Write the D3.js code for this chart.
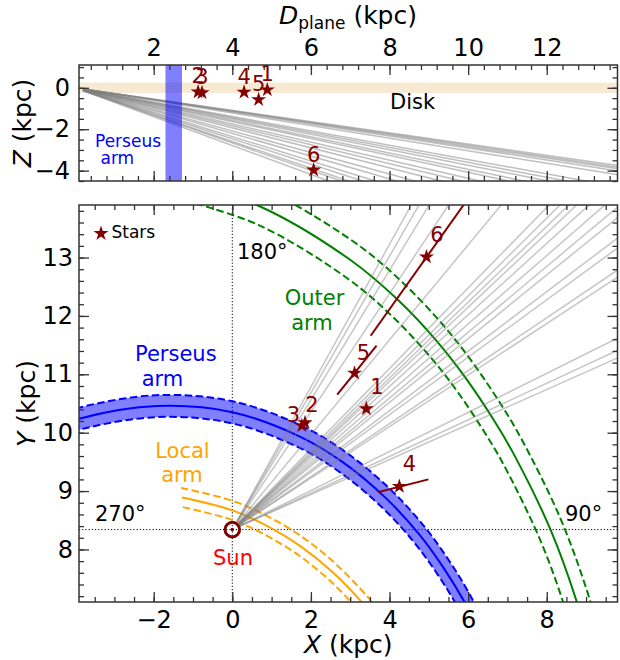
<!DOCTYPE html>
<html>
<head>
<meta charset="utf-8">
<script src="https://cdn.jsdelivr.net/npm/d3@7"></script>
<style>
  body { margin: 0; background: #fff; }
  text { font-family: "DejaVu Sans", sans-serif; }
</style>
</head>
<body>
<svg id="chart" width="620" height="660"></svg>
<script>
// ---- data ----
const starIds = [1, 2, 3, 4, 5, 6];
// face-on view (kpc)
const starX = [3.41, 1.85, 1.77, 4.25, 3.11, 4.94];
const starY = [10.41, 10.17, 10.12, 9.08, 11.02, 13.01];
// edge-on view (kpc)
const starD = [4.89, 3.13, 3.23, 4.30, 4.67, 6.07];
const starZ = [-0.10, -0.20, -0.24, -0.21, -0.57, -3.97];

// distance ranges drawn as segments in the face-on view
const errIds = [4, 5, 6];
const errX0 = [3.70, 2.67, 3.52];
const errY0 = [8.98, 10.65, 11.66];
const errX1 = [4.99, 3.67, 6.20];
const errY1 = [9.20, 11.49, 14.20];

// sightlines: galactic longitude / latitude (deg)
const losL = [140.7, 139.5, 138.0, 135.3, 129.1, 124.6, 123.7, 123.0, 122.4, 121.5,
              120.4, 119.4, 118.6, 117.0, 116.2, 114.4, 113.8, 108.5, 107.4, 106.7];
const losB = [-34.9, -33.6, -32.9, -31.6, -30.5, -28.8, -27.5, -25.8, -24.6, -23.6,
              -22.2, -21.5, -20.5, -19.8, -19.1, -16.9, -16.2, -15.8, -15.5, -15.2];

// spiral arms: galactocentric azimuth (deg, from the Sun direction) and radius (kpc)
const perseusAz = [-25, -20.7, -10.4, 0, 9.9, 16.6, 23.8, 29.9, 34.9, 39.6, 45];
const perseusR  = [11.08, 10.95, 10.63, 10.35, 10.08, 9.90, 9.70, 9.53, 9.38, 9.24, 9.08];
const perseusWidth = 0.38;
const outerAz = [-6, 2.8, 13.1, 18.9, 24.3, 28.4, 33.3, 36.5, 44.2, 51.0, 56];
const outerR  = [14.43, 13.90, 13.30, 12.98, 12.68, 12.45, 12.18, 12.01, 11.62, 11.28, 11.04];
const outerWidth = 0.65;
const localAz = [-8.2, 0, 6.0, 12.2, 18.5, 25.1, 29];
const localR  = [8.98, 8.67, 8.45, 8.24, 8.03, 7.82, 7.70];
const localWidth = 0.33;

const sun = [0, 8.34];
const diskZ = [-0.25, 0.25];
const perseusDplane = [2.30, 2.72];

const dTicks = [2, 4, 6, 8, 10, 12];
const zTicks = [0, -2, -4];
const xTicks = [-2, 0, 2, 4, 6, 8];
const yTicks = [8, 9, 10, 11, 12, 13];

// ---- layout ----
const svg = d3.select('#chart');
const left = 79, right = 617.5;
const top1 = 65, bot1 = 181, top2 = 205, bot2 = 602;
const darkred = '#850000';
const rad = Math.PI / 180;
const intFmt = d3.format('d');

const xD = d3.scaleLinear([0.1, 13.8], [left, right]);
const yZ = d3.scaleLinear([-4.5, 1.1], [bot1, top1]);
const xX = d3.scaleLinear([-3.9, 9.8], [left, right]);
const yY = d3.scaleLinear([7.1, 13.9], [bot2, top2]);

const defs = svg.append('defs');
defs.append('clipPath').attr('id', 'clipTop')
  .append('rect').attr('x', left).attr('y', top1).attr('width', right - left).attr('height', bot1 - top1);
defs.append('clipPath').attr('id', 'clipBot')
  .append('rect').attr('x', left).attr('y', top2).attr('width', right - left).attr('height', bot2 - top2);

const star = d3.symbol(d3.symbolStar, 70);

// ================= top panel: edge-on =================
const gTop = svg.append('g').attr('clip-path', 'url(#clipTop)');

gTop.append('rect')
  .attr('x', left).attr('width', right - left)
  .attr('y', yZ(diskZ[1])).attr('height', yZ(diskZ[0]) - yZ(diskZ[1]))
  .attr('fill', '#f7e9d2');

gTop.selectAll('.losTop')
  .data(losB)
  .join('line')
  .attr('class', 'losTop')
  .attr('x1', xD(0.2)).attr('y1', b => yZ(0.2 * Math.tan(b * rad)))
  .attr('x2', xD(20)).attr('y2', b => yZ(20 * Math.tan(b * rad)))
  .attr('stroke', 'grey')
  .attr('stroke-opacity', 0.5)
  .attr('stroke-width', 1.5);

gTop.append('rect')
  .attr('x', xD(perseusDplane[0])).attr('width', xD(perseusDplane[1]) - xD(perseusDplane[0]))
  .attr('y', top1).attr('height', bot1 - top1)
  .attr('fill', 'blue').attr('fill-opacity', 0.5);

gTop.selectAll('.starTop')
  .data(starIds)
  .join('path')
  .attr('class', 'starTop')
  .attr('d', star)
  .attr('transform', (d, i) => `translate(${xD(starD[i])},${yZ(starZ[i])})`)
  .attr('fill', darkred);

svg.selectAll('.labTop')
  .data(starIds)
  .join('text')
  .attr('class', 'labTop')
  .attr('x', (d, i) => xD(starD[i]))
  .attr('y', (d, i) => yZ(starZ[i]) - 16)
  .attr('dy', '0.36em')
  .attr('text-anchor', 'middle')
  .attr('font-size', 21)
  .attr('fill', darkred)
  .text(d => d);

svg.append('text').attr('x', 390).attr('y', 109).attr('font-size', 21).text('Disk');
svg.append('text').attr('x', 95).attr('y', 146.5).attr('font-size', 17).attr('fill', 'blue').text('Perseus');
svg.append('text').attr('x', 100.5).attr('y', 164).attr('font-size', 17).attr('fill', 'blue').text('arm');

// ================= bottom panel: face-on =================
const gBot = svg.append('g').attr('clip-path', 'url(#clipBot)');

const armLine = d3.line()
  .x(d => xX(d[0]))
  .y(d => yY(d[1]))
  .curve(d3.curveCatmullRom);

function armPoints(az, R, dr) {
  return az.map((b, i) => [(R[i] + dr) * Math.sin(b * rad), (R[i] + dr) * Math.cos(b * rad)]);
}

function drawArm(az, R, width, color, band) {
  const outer = armPoints(az, R, width / 2);
  const inner = armPoints(az, R, -width / 2);
  if (band) {
    const back = armLine(inner.slice().reverse());
    gBot.append('path')
      .attr('d', armLine(outer) + 'L' + back.slice(1) + 'Z')
      .attr('fill', 'blue').attr('fill-opacity', 0.5);
  }
  gBot.append('path').attr('d', armLine(armPoints(az, R, 0)))
    .attr('fill', 'none').attr('stroke', color).attr('stroke-width', 2);
  [outer, inner].forEach(pts => {
    gBot.append('path').attr('d', armLine(pts))
      .attr('fill', 'none').attr('stroke', color).attr('stroke-width', 2)
      .attr('stroke-dasharray', '7.5,3.5');
  });
}

// dotted cross through the Sun
gBot.append('line')
  .attr('x1', xX(sun[0])).attr('x2', xX(sun[0]))
  .attr('y1', top2).attr('y2', bot2)
  .attr('stroke', '#000').attr('stroke-width', 1).attr('stroke-dasharray', '1.2,2');
gBot.append('line')
  .attr('x1', left).attr('x2', right)
  .attr('y1', yY(sun[1])).attr('y2', yY(sun[1]))
  .attr('stroke', '#000').attr('stroke-width', 1).attr('stroke-dasharray', '1.2,2');

drawArm(perseusAz, perseusR, perseusWidth, 'blue', true);
drawArm(outerAz, outerR, outerWidth, 'green', false);
drawArm(localAz, localR, localWidth, 'orange', false);

gBot.selectAll('.losBot')
  .data(losL)
  .join('line')
  .attr('class', 'losBot')
  .attr('x1', l => xX(sun[0] + 0.2 * Math.sin(l * rad)))
  .attr('y1', l => yY(sun[1] - 0.2 * Math.cos(l * rad)))
  .attr('x2', l => xX(sun[0] + 20 * Math.sin(l * rad)))
  .attr('y2', l => yY(sun[1] - 20 * Math.cos(l * rad)))
  .attr('stroke', 'grey')
  .attr('stroke-opacity', 0.45)
  .attr('stroke-width', 1.5);

gBot.selectAll('.err')
  .data(errIds)
  .join('line')
  .attr('class', 'err')
  .attr('x1', (d, i) => xX(errX0[i])).attr('y1', (d, i) => yY(errY0[i]))
  .attr('x2', (d, i) => xX(errX1[i])).attr('y2', (d, i) => yY(errY1[i]))
  .attr('stroke', darkred).attr('stroke-width', 2);

gBot.selectAll('.starBot')
  .data(starIds)
  .join('path')
  .attr('class', 'starBot')
  .attr('d', star)
  .attr('transform', (d, i) => `translate(${xX(starX[i])},${yY(starY[i])})`)
  .attr('fill', darkred);

// label offsets (px) so the numbers sit clear of the markers
const labOffset = { 1: [10.5, -22], 2: [7, -18], 3: [-8.5, -11.5], 4: [10, -23], 5: [9, -21], 6: [10.5, -22.5] };
svg.selectAll('.labBot')
  .data(starIds)
  .join('text')
  .attr('class', 'labBot')
  .attr('x', (d, i) => xX(starX[i]) + labOffset[d][0])
  .attr('y', (d, i) => yY(starY[i]) + labOffset[d][1])
  .attr('dy', '0.36em')
  .attr('text-anchor', 'middle')
  .attr('font-size', 21)
  .attr('fill', darkred)
  .text(d => d);

// the Sun
svg.append('circle')
  .attr('cx', xX(sun[0])).attr('cy', yY(sun[1])).attr('r', 7.3)
  .attr('fill', 'none').attr('stroke', '#7a0000').attr('stroke-width', 3);
svg.append('circle')
  .attr('cx', xX(sun[0])).attr('cy', yY(sun[1])).attr('r', 1.8)
  .attr('fill', '#7a0000');

// legend
svg.append('path').attr('d', star).attr('transform', 'translate(101,233.5)').attr('fill', darkred);
svg.append('text').attr('x', 111.5).attr('y', 237.5).attr('font-size', 17).text('Stars');

// annotations
const note = (x, y, txt, color, anchor) => svg.append('text')
  .attr('x', x).attr('y', y).attr('font-size', 21)
  .attr('fill', color).attr('text-anchor', anchor || 'start').text(txt);
note(237, 258.5, '180°', '#000');
note(95, 520.5, '270°', '#000');
note(565, 520.5, '90°', '#000');
note(314.5, 305, 'Outer', 'green', 'middle');
note(312, 330, 'arm', 'green', 'middle');
note(135, 361, 'Perseus', 'blue');
note(141.7, 386, 'arm', 'blue');
note(182.5, 458, 'Local', 'orange', 'middle');
note(182, 482, 'arm', 'orange', 'middle');
note(233, 565, 'Sun', 'red', 'middle');

// ================= axes =================
function frame(y0, y1) {
  svg.append('rect')
    .attr('x', left).attr('y', y0).attr('width', right - left).attr('height', y1 - y0)
    .attr('fill', 'none').attr('stroke', '#333').attr('stroke-width', 1.5);
}

function ticks(axis, transform, labelled) {
  const g = svg.append('g').attr('transform', transform).call(axis.tickFormat(intFmt));
  g.select('.domain').remove();
  g.selectAll('line').attr('stroke', '#333').attr('stroke-width', 1.3);
  g.selectAll('text').attr('font-size', 24).attr('fill', '#000')
    .style('font-family', '"DejaVu Sans", sans-serif');
  if (!labelled) g.selectAll('text').remove();
  return g;
}

// top panel
ticks(d3.axisTop(xD).tickValues(dTicks).tickSize(-10).tickPadding(9), `translate(0,${top1})`, true);
ticks(d3.axisTop(xD).tickValues(d3.range(0.4, 13.8, 0.4)).tickSize(-5), `translate(0,${top1})`, false);
ticks(d3.axisBottom(xD).tickValues(dTicks).tickSize(-10), `translate(0,${bot1})`, false);
ticks(d3.axisBottom(xD).tickValues(d3.range(0.4, 13.8, 0.4)).tickSize(-5), `translate(0,${bot1})`, false);
ticks(d3.axisLeft(yZ).tickValues(zTicks).tickSize(-10).tickPadding(9), `translate(${left},0)`, true);
ticks(d3.axisLeft(yZ).tickValues(d3.range(-4.5, 1.01, 0.5)).tickSize(-5), `translate(${left},0)`, false);
ticks(d3.axisRight(yZ).tickValues(zTicks).tickSize(-10), `translate(${right},0)`, false);
ticks(d3.axisRight(yZ).tickValues(d3.range(-4.5, 1.01, 0.5)).tickSize(-5), `translate(${right},0)`, false);
frame(top1, bot1);

// bottom panel
ticks(d3.axisBottom(xX).tickValues(xTicks).tickSize(-10).tickPadding(9), `translate(0,${bot2})`, true);
ticks(d3.axisBottom(xX).tickValues(d3.range(-3.5, 9.8, 0.5)).tickSize(-5), `translate(0,${bot2})`, false);
ticks(d3.axisTop(xX).tickValues(xTicks).tickSize(-10), `translate(0,${top2})`, false);
ticks(d3.axisTop(xX).tickValues(d3.range(-3.5, 9.8, 0.5)).tickSize(-5), `translate(0,${top2})`, false);
ticks(d3.axisLeft(yY).tickValues(yTicks).tickSize(-10).tickPadding(6), `translate(${left},0)`, true);
ticks(d3.axisLeft(yY).tickValues(d3.range(7.2, 13.9, 0.2)).tickSize(-5), `translate(${left},0)`, false);
ticks(d3.axisRight(yY).tickValues(yTicks).tickSize(-10), `translate(${right},0)`, false);
ticks(d3.axisRight(yY).tickValues(d3.range(7.2, 13.9, 0.2)).tickSize(-5), `translate(${right},0)`, false);
frame(top2, bot2);

// axis titles
const title = svg.append('text')
  .attr('x', 348).attr('y', 24).attr('text-anchor', 'middle').attr('font-size', 25);
title.append('tspan').attr('font-style', 'italic').text('D');
title.append('tspan').attr('font-size', 17).attr('dy', 5).text('plane');
title.append('tspan').attr('dy', -5).text(' (kpc)');

function yTitle(x, y, letter) {
  const t = svg.append('text')
    .attr('transform', `translate(${x},${y}) rotate(-90)`)
    .attr('text-anchor', 'middle').attr('font-size', 25);
  t.append('tspan').attr('font-style', 'italic').text(letter);
  t.append('tspan').text(' (kpc)');
}
yTitle(30.5, (top1 + bot1) / 2, 'Z');
yTitle(35, (top2 + bot2) / 2, 'Y');

const xt = svg.append('text')
  .attr('x', (left + right) / 2).attr('y', 652.5)
  .attr('text-anchor', 'middle').attr('font-size', 25);
xt.append('tspan').attr('font-style', 'italic').text('X');
xt.append('tspan').text(' (kpc)');
</script>
</body>
</html>
